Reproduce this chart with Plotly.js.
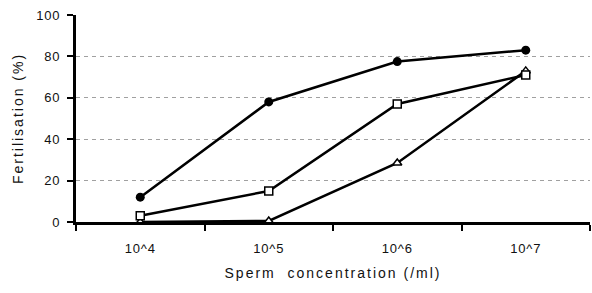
<!DOCTYPE html>
<html>
<head>
<meta charset="utf-8">
<script src="https://cdn.plot.ly/plotly-3.0.1.min.js"></script>
<style>
html,body{margin:0;padding:0;background:#fff;}
#chart{width:592px;height:293px;}
#chart .g-xtitle text, #chart .g-ytitle text{letter-spacing:2px;}
#chart .xtick text, #chart .ytick text{letter-spacing:0.8px;}
</style>
</head>
<body>
<div id="chart"></div>
<script>
const categories = ["10^4", "10^5", "10^6", "10^7"];
const filledCircles = [12, 58, 77.5, 83];
const openSquares = [3, 15, 57, 71];
const openTriangles = [0, 0.5, 28.5, 73];
const yTicks = [0, 20, 40, 60, 80, 100];

const line = {color: "#000", width: 2.5};
const traces = [
  {x: categories, y: openTriangles, type: "scatter", mode: "lines+markers", line: line,
   marker: {symbol: "triangle-up", size: 8, color: "#fff", line: {color: "#000", width: 1.5}}, cliponaxis: false},
  {x: categories, y: openSquares, type: "scatter", mode: "lines+markers", line: line,
   marker: {symbol: "square", size: 8, color: "#fff", line: {color: "#000", width: 1.5}}, cliponaxis: false},
  {x: categories, y: filledCircles, type: "scatter", mode: "lines+markers", line: line,
   marker: {symbol: "circle", size: 9, color: "#000"}, cliponaxis: false}
];

const layout = {
  width: 592, height: 293,
  margin: {l: 76, r: 2, t: 15, b: 71},
  paper_bgcolor: "#fff", plot_bgcolor: "#fff",
  showlegend: false,
  font: {family: "Liberation Sans, Arial, sans-serif", color: "#111", size: 13},
  xaxis: {
    type: "category", range: [-0.5, 3.5],
    tickson: "boundaries", ticks: "outside", ticklen: 6, tickwidth: 2, tickcolor: "#000",
    ticklabelstandoff: 12,
    showline: true, linecolor: "#000", linewidth: 3,
    showgrid: false, zeroline: false,
    tickfont: {size: 13, color: "#111"},
    title: {text: "Sperm  concentration (/ml)", font: {size: 14, color: "#111"}, standoff: 14}
  },
  yaxis: {
    range: [0, 100], tickvals: yTicks, ticktext: yTicks.map(String),
    ticks: "outside", ticklen: 6, tickwidth: 2, tickcolor: "#000",
    ticklabelstandoff: 4,
    showline: true, linecolor: "#000", linewidth: 3,
    showgrid: true, gridcolor: "#a0a0a0", griddash: "4px,4px", gridwidth: 1.2,
    zeroline: false,
    tickfont: {size: 13, color: "#111"},
    title: {text: "Fertilisation (%)", font: {size: 14, color: "#111"}, standoff: 12}
  }
};

Plotly.newPlot("chart", traces, layout, {displayModeBar: false, staticPlot: true});
</script>
</body>
</html>
